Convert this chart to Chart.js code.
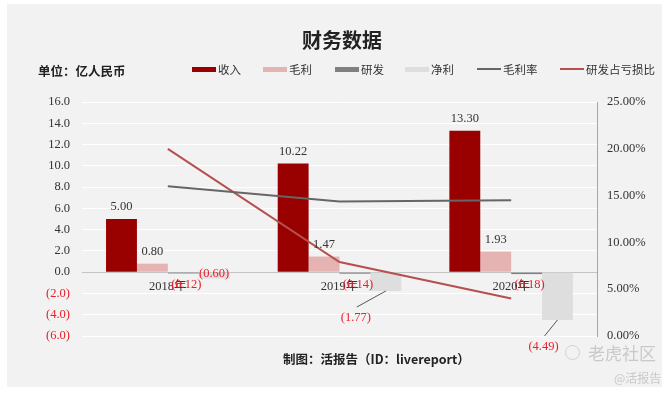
<!DOCTYPE html>
<html>
<head>
<meta charset="utf-8">
<script src="https://cdn.jsdelivr.net/npm/chart.js@4"></script>
<style>
  body { margin: 0; background: #fff; }
  #wrap { position: relative; width: 669px; height: 393px; overflow: hidden; }
  #panel { position: absolute; left: 7px; top: 4px; width: 655px; height: 383px; background: #f2f2f2; }
  #myChart { position: absolute; left: 0; top: 0; }
  .txt { position: absolute; white-space: nowrap; font-family: 'Noto Sans CJK SC', sans-serif; color: #222; }
  .title { left: 302px; top: 25px; font-size: 20px; font-weight: bold; }
  .unit { left: 38px; top: 61px; font-size: 12.5px; font-weight: bold; }
  .footer { left: 283px; top: 349px; font-size: 12.5px; font-weight: bold; }
  .lg { position: absolute; top: 61px; font-size: 11.5px; color: #333; display: flex; align-items: center; font-family: 'Noto Sans CJK SC', sans-serif; }
  .lg i { display: inline-block; width: 24px; margin-right: 2px; }
  .wm { color: #c9c9c9; }
</style>
</head>
<body>
<div id="wrap">
  <div id="panel"></div>
  <canvas id="myChart" width="669" height="393"></canvas>
  <div class="txt title">财务数据</div>
  <div class="txt unit">单位：亿人民币</div>
  <div id="legend"></div>
  <div class="txt footer">制图：活报告（ID：livereport）</div>
  <div style="position:absolute;left:565px;top:345px;width:13px;height:13px;border:1.5px solid #d0d0d0;border-radius:50%;"></div>
  <div class="txt wm" style="left:588px;top:340px;font-size:17px;">老虎社区</div>
  <div class="txt wm" style="left:614px;top:369px;font-size:12px;">@活报告</div>
</div>
<script>
const categories = ['2018年', '2019年', '2020年'];
const revenue = [5.00, 10.22, 13.30];
const grossProfit = [0.80, 1.47, 1.93];
const rnd = [-0.12, -0.14, -0.18];
const netProfit = [-0.60, -1.77, -4.49];
const grossMargin = [16.0, 14.38, 14.51];     // %
const rndLossRatio = [20.0, 7.91, 4.01];      // %

const legendItems = [
  { text: '收入', color: '#990000', type: 'box', x: 192 },
  { text: '毛利', color: '#e6b3b3', type: 'box', x: 263 },
  { text: '研发', color: '#808080', type: 'box', x: 335 },
  { text: '净利', color: '#dedede', type: 'box', x: 405 },
  { text: '毛利率', color: '#666666', type: 'line', x: 477 },
  { text: '研发占亏损比', color: '#b5504f', type: 'line', x: 560 },
];

const serif = "'Liberation Serif', 'Noto Sans CJK SC', serif";
const red = '#e8202a';

function fmt(v, d) {
  return v < 0 ? '(' + Math.abs(v).toFixed(d) + ')' : v.toFixed(d);
}

function buildLegend() {
  const box = document.getElementById('legend');
  legendItems.forEach(item => {
    const el = document.createElement('div');
    el.className = 'lg';
    el.style.left = item.x + 'px';
    const h = item.type === 'box' ? 5 : 2;
    el.innerHTML = '<i style="height:' + h + 'px;background:' + item.color + '"></i>' + item.text;
    box.appendChild(el);
  });
}

// data labels drawn by hand (no datalabels plugin available offline)
const labelPlugin = {
  id: 'barLabels',
  afterDatasetsDraw(chart) {
    const ctx = chart.ctx;
    const zeroY = chart.scales.y.getPixelForValue(0);
    ctx.save();
    ctx.font = '12.5px ' + serif;
    ctx.textAlign = 'center';
    ctx.textBaseline = 'middle';
    chart.data.datasets.forEach((ds, di) => {
      if (ds.type === 'line') return;
      const meta = chart.getDatasetMeta(di);
      meta.data.forEach((bar, i) => {
        const v = ds.data[i];
        if (ds.label === '收入' || ds.label === '毛利') {
          ctx.fillStyle = '#333';
          ctx.fillText(fmt(v, 2), bar.x, bar.y - 12);
        } else if (ds.label === '研发') {
          ctx.fillStyle = red;
          ctx.fillText(fmt(v, 2), bar.x + 3, zeroY + 13);
        } else if (ds.label === '净利') {
          ctx.fillStyle = red;
          if (i === 0) {
            ctx.fillText(fmt(v, 2), bar.x, zeroY + 2);
          } else {
            const dx = i === 1 ? -29 : -13;
            ctx.strokeStyle = '#555';
            ctx.lineWidth = 1;
            ctx.beginPath();
            ctx.moveTo(bar.x, bar.y);
            ctx.lineTo(bar.x + dx, bar.y + 16);
            ctx.stroke();
            ctx.fillText(fmt(v, 2), bar.x + dx - 1, bar.y + 27);
          }
        }
      });
    });
    ctx.restore();
  }
};

function configureChart() {
  const ctx = document.getElementById('myChart').getContext('2d');
  const barOpts = { categoryPercentage: 0.72, barPercentage: 1.0, order: 1, yAxisID: 'y' };
  const myChart = new Chart(ctx, {
    type: 'bar',
    data: {
      labels: categories,
      datasets: [
        { label: '收入', data: revenue, backgroundColor: '#990000', ...barOpts },
        { label: '毛利', data: grossProfit, backgroundColor: '#e6b3b3', ...barOpts },
        { label: '研发', data: rnd, backgroundColor: '#808080', ...barOpts },
        { label: '净利', data: netProfit, backgroundColor: '#dedede', ...barOpts },
        {
          type: 'line', label: '毛利率', data: grossMargin, yAxisID: 'y1', order: 0,
          borderColor: '#666666', borderWidth: 2, pointRadius: 0, tension: 0,
        },
        {
          type: 'line', label: '研发占亏损比', data: rndLossRatio, yAxisID: 'y1', order: 0,
          borderColor: '#b5504f', borderWidth: 2, pointRadius: 0, tension: 0,
        },
      ],
    },
    options: {
      responsive: false,
      animation: false,
      layout: { padding: { top: 102, bottom: 57, left: 0, right: 0 } },
      plugins: { legend: { display: false }, tooltip: { enabled: false } },
      scales: {
        x: {
          position: { y: 0 },
          grid: { display: false, drawTicks: false },
          border: { display: true, color: '#c4c4c4' },
          ticks: { color: '#333', font: { family: serif, size: 12.5 }, padding: 7 },
        },
        y: {
          position: 'left',
          min: -6,
          max: 16,
          afterFit: scale => { scale.width = 82; },
          grid: {
            color: c => (c.tick && c.tick.value === 0 ? '#c4c4c4' : '#ffffff'),
            lineWidth: 1,
            drawTicks: false,
          },
          border: { display: false },
          ticks: {
            stepSize: 2,
            padding: 12,
            font: { family: serif, size: 12.5 },
            color: c => (c.tick && c.tick.value < 0 ? red : '#333'),
            callback: value => fmt(value, 1),
          },
        },
        y1: {
          position: 'right',
          min: 0,
          max: 25,
          afterFit: scale => { scale.width = 72; },
          grid: { drawOnChartArea: false, drawTicks: false },
          border: { display: true, color: '#a6a6a6' },
          ticks: {
            stepSize: 5,
            padding: 10,
            font: { family: serif, size: 12.5 },
            color: '#333',
            callback: value => value.toFixed(2) + '%',
          },
        },
      },
    },
    plugins: [labelPlugin],
  });
}

buildLegend();
configureChart();
</script>
</body>
</html>
